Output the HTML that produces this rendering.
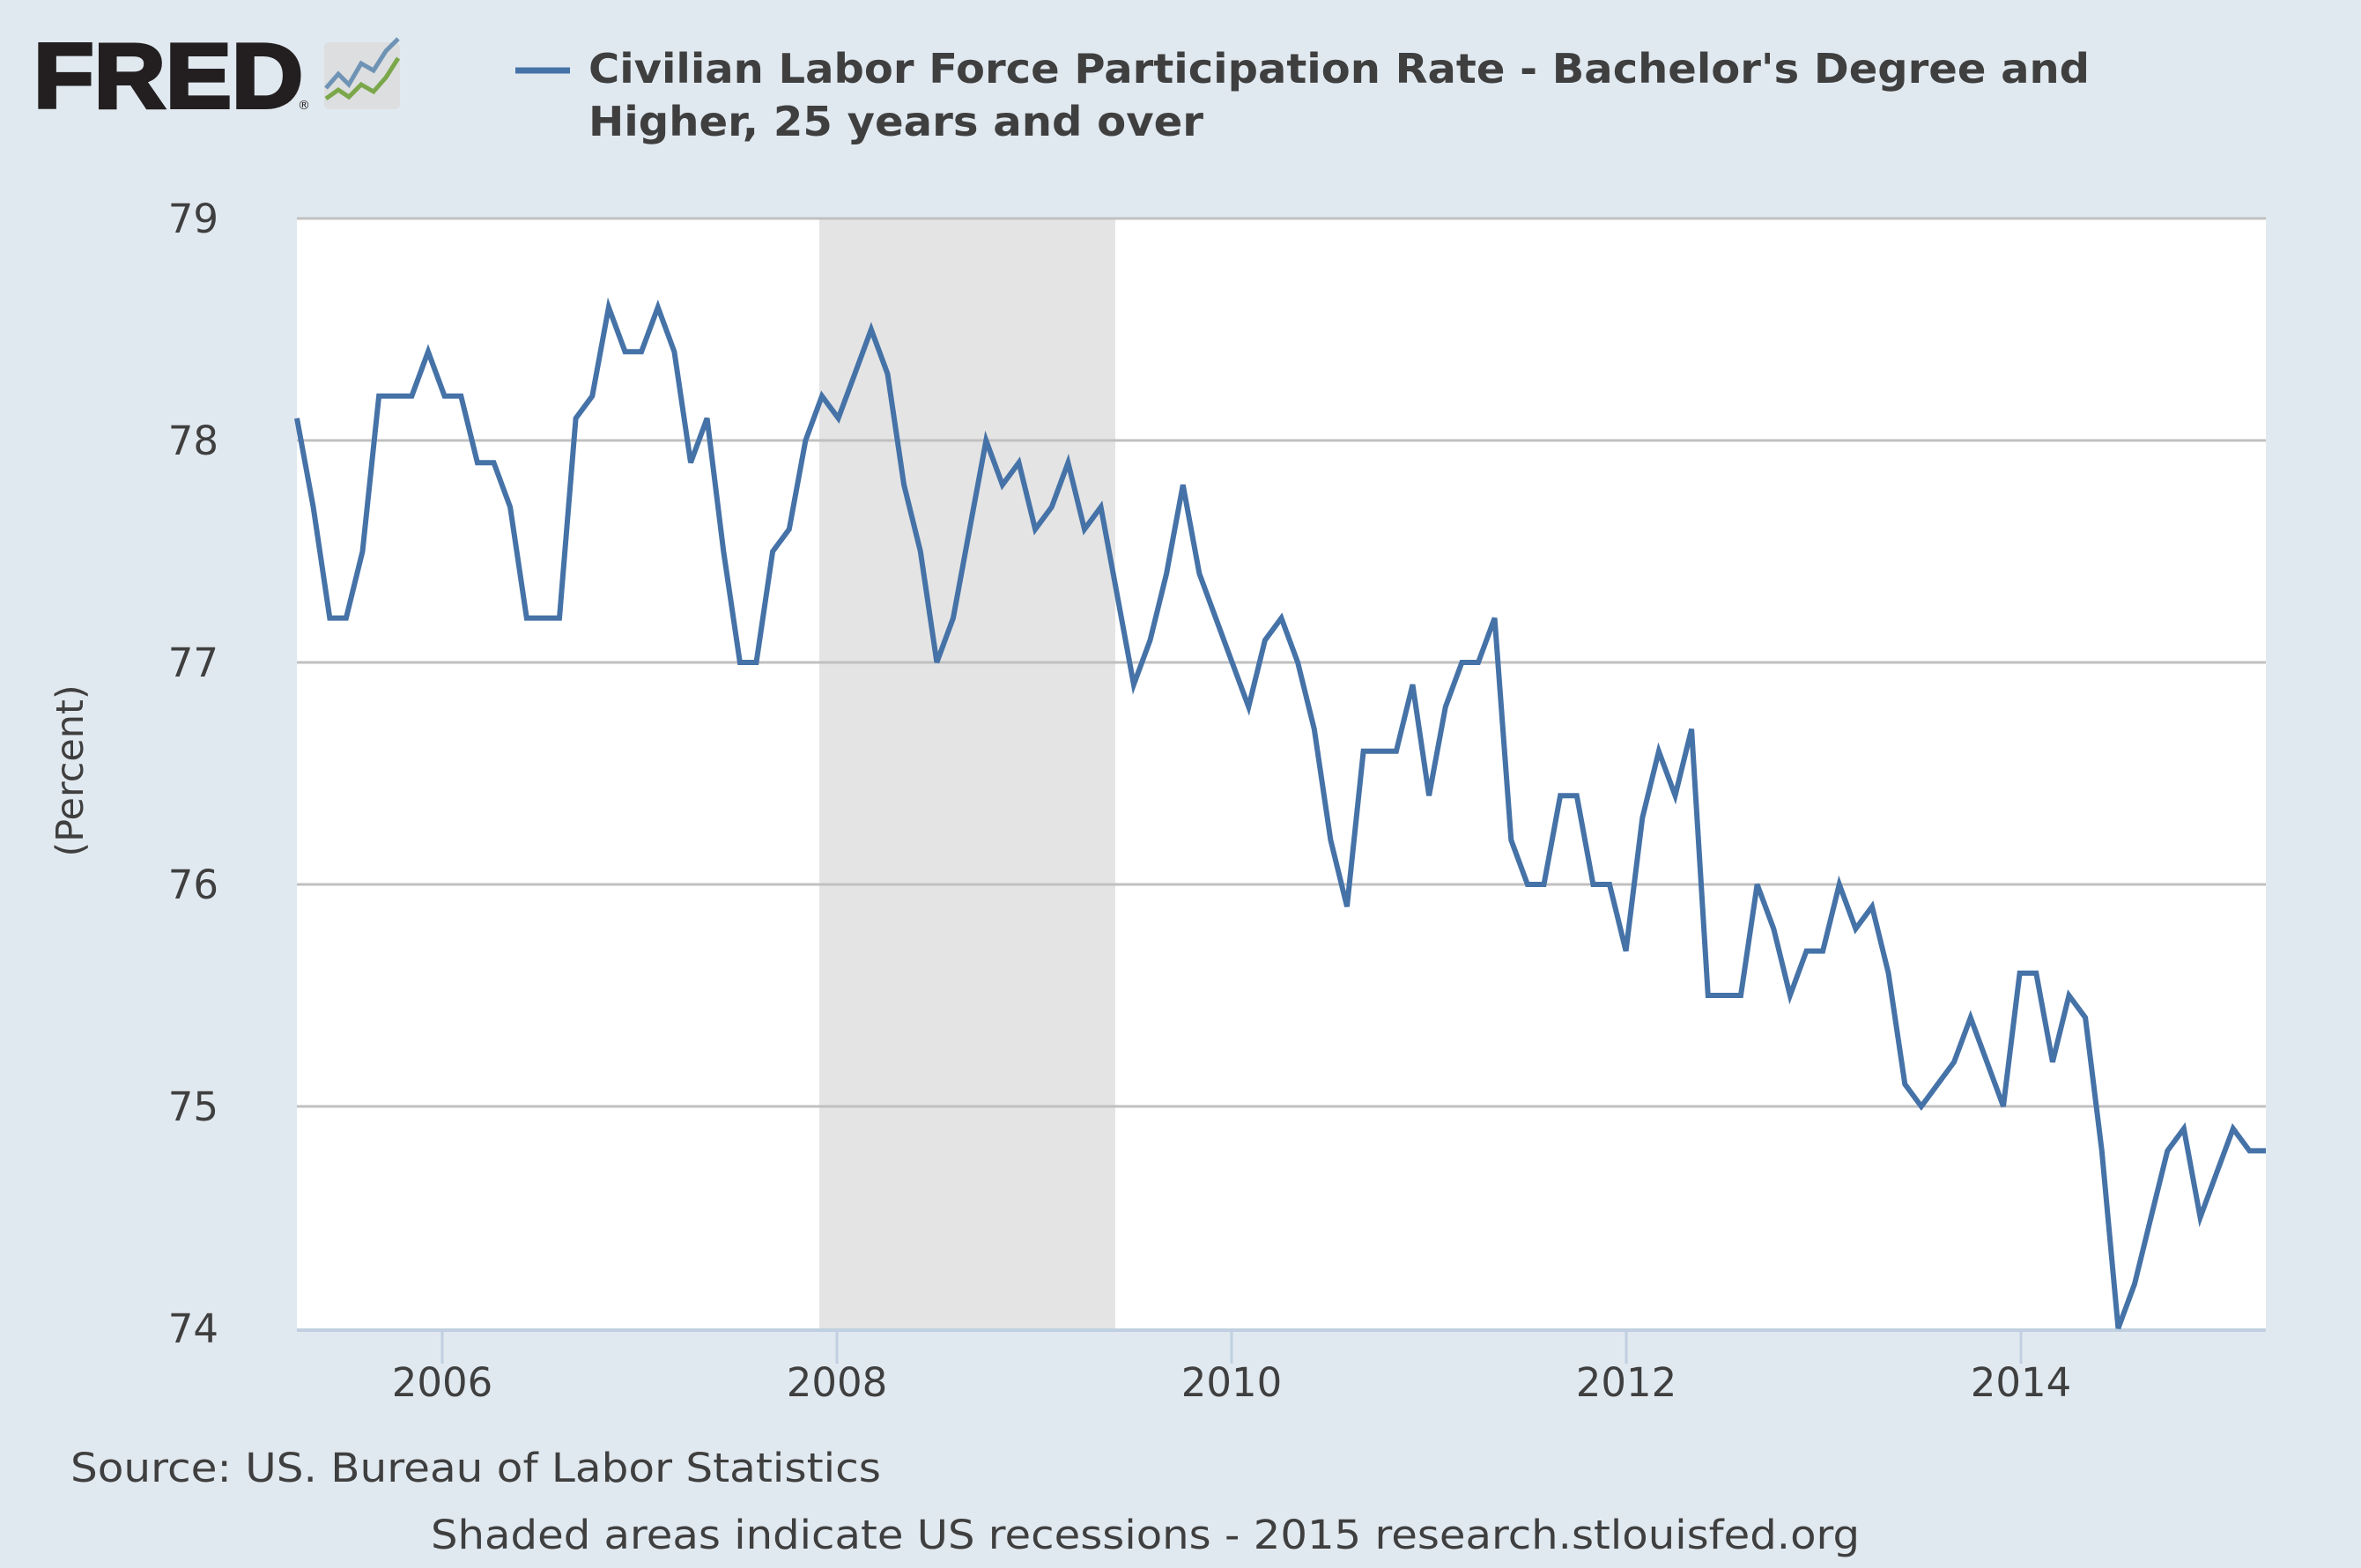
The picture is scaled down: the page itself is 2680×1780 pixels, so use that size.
<!DOCTYPE html>
<html><head><meta charset="utf-8"><style>
html,body{margin:0;padding:0;background:#e1e9f0;}
svg{display:block;font-family:"DejaVu Sans","Liberation Sans",sans-serif;}
</style></head><body>
<svg width="2680" height="1780" viewBox="0 0 2680 1780" xmlns="http://www.w3.org/2000/svg">
<rect width="2680" height="1780" fill="#e1e9f0"/>
<text x="38" y="122" font-family="Liberation Sans,sans-serif" font-weight="900" font-size="104" textLength="306" lengthAdjust="spacingAndGlyphs" fill="#231f20" stroke="#231f20" stroke-width="4">FRED</text>
<text x="338" y="124" font-size="14" fill="#231f20">®</text>
<rect x="368" y="48" width="86" height="76" rx="6" fill="#dcdedf"/>
<polyline points="370,100 384,84 396,96 410,72 424,80 438,58 452,44" fill="none" stroke="#6f93b5" stroke-width="5"/>
<polyline points="370,112 384,102 396,110 410,96 424,104 438,88 452,66" fill="none" stroke="#7ba74a" stroke-width="5"/>
<line x1="585" y1="80" x2="647" y2="80" stroke="#4572a7" stroke-width="7"/>
<text x="668" y="94" font-size="46" font-weight="bold" fill="#3f3f3f" textLength="1704" lengthAdjust="spacingAndGlyphs">Civilian Labor Force Participation Rate - Bachelor's Degree and</text>
<text x="668" y="154" font-size="46" font-weight="bold" fill="#3f3f3f" textLength="698" lengthAdjust="spacingAndGlyphs">Higher, 25 years and over</text>
<rect x="337" y="248" width="2235" height="1260" fill="#fff"/>
<rect x="930" y="248" width="336" height="1260" fill="#e4e4e4"/>
<g stroke="#c0c0c0" stroke-width="3">
<line x1="337" y1="248" x2="2572" y2="248"/><line x1="337" y1="500" x2="2572" y2="500"/><line x1="337" y1="752" x2="2572" y2="752"/><line x1="337" y1="1004" x2="2572" y2="1004"/><line x1="337" y1="1256" x2="2572" y2="1256"/>
</g>
<line x1="337" y1="1510" x2="2572" y2="1510" stroke="#c0d0e0" stroke-width="4"/>
<g stroke="#c0d0e0" stroke-width="3">
<line x1="502" y1="1512" x2="502" y2="1548"/><line x1="950" y1="1512" x2="950" y2="1548"/><line x1="1398" y1="1512" x2="1398" y2="1548"/><line x1="1846" y1="1512" x2="1846" y2="1548"/><line x1="2294" y1="1512" x2="2294" y2="1548"/>
</g>
<g font-size="45" fill="#3f3f3f" text-anchor="end">
<text x="248" y="264">79</text><text x="248" y="516">78</text><text x="248" y="768">77</text><text x="248" y="1020">76</text><text x="248" y="1272">75</text><text x="248" y="1524">74</text>
</g>
<g font-size="45" fill="#3f3f3f" text-anchor="middle">
<text x="502" y="1585">2006</text><text x="950" y="1585">2008</text><text x="1398" y="1585">2010</text><text x="1846" y="1585">2012</text><text x="2294" y="1585">2014</text>
</g>
<text transform="translate(94,875) rotate(-90)" font-size="43" fill="#3f3f3f" text-anchor="middle">(Percent)</text>
<text x="80" y="1682" font-size="45" fill="#3f3f3f" textLength="920" lengthAdjust="spacingAndGlyphs">Source: US. Bureau of Labor Statistics</text>
<text x="489" y="1758" font-size="45" fill="#3f3f3f" textLength="1622" lengthAdjust="spacingAndGlyphs">Shaded areas indicate US recessions - 2015 research.stlouisfed.org</text>
<polyline fill="none" stroke="#4572a7" stroke-width="6" points="337,474.8 355.6,575.6 374.3,701.6 392.9,701.6 411.5,626 430.1,449.6 448.8,449.6 467.4,449.6 486,399.2 504.6,449.6 523.3,449.6 541.9,525.2 560.5,525.2 579.1,575.6 597.8,701.6 616.4,701.6 635,701.6 653.6,474.8 672.3,449.6 690.9,348.8 709.5,399.2 728.1,399.2 746.8,348.8 765.4,399.2 784,525.2 802.6,474.8 821.3,626 839.9,752 858.5,752 877.1,626 895.8,600.8 914.4,500 933,449.6 951.6,474.8 970.3,424.4 988.9,374 1007.5,424.4 1026.1,550.4 1044.8,626 1063.4,752 1082,701.6 1100.6,600.8 1119.3,500 1137.9,550.4 1156.5,525.2 1175.1,600.8 1193.8,575.6 1212.4,525.2 1231,600.8 1249.6,575.6 1268.3,676.4 1286.9,777.2 1305.5,726.8 1324.1,651.2 1342.8,550.4 1361.4,651.2 1380,701.6 1398.6,752 1417.3,802.4 1435.9,726.8 1454.5,701.6 1473.1,752 1491.8,827.6 1510.4,953.6 1529,1029.2 1547.6,852.8 1566.3,852.8 1584.9,852.8 1603.5,777.2 1622.1,903.2 1640.8,802.4 1659.4,752 1678,752 1696.6,701.6 1715.3,953.6 1733.9,1004 1752.5,1004 1771.1,903.2 1789.8,903.2 1808.4,1004 1827,1004 1845.6,1079.6 1864.3,928.4 1882.9,852.8 1901.5,903.2 1920.1,827.6 1938.8,1130 1957.4,1130 1976,1130 1994.6,1004 2013.3,1054.4 2031.9,1130 2050.5,1079.6 2069.1,1079.6 2087.8,1004 2106.4,1054.4 2125,1029.2 2143.6,1104.8 2162.3,1230.8 2180.9,1256 2199.5,1230.8 2218.1,1205.6 2236.8,1155.2 2255.4,1205.6 2274,1256 2292.6,1104.8 2311.3,1104.8 2329.9,1205.6 2348.5,1130 2367.1,1155.2 2385.8,1306.4 2404.4,1508 2423,1457.6 2441.6,1382 2460.3,1306.4 2478.9,1281.2 2497.5,1382 2516.1,1331.6 2534.8,1281.2 2553.4,1306.4 2572,1306.4"/>
</svg>
</body></html>
